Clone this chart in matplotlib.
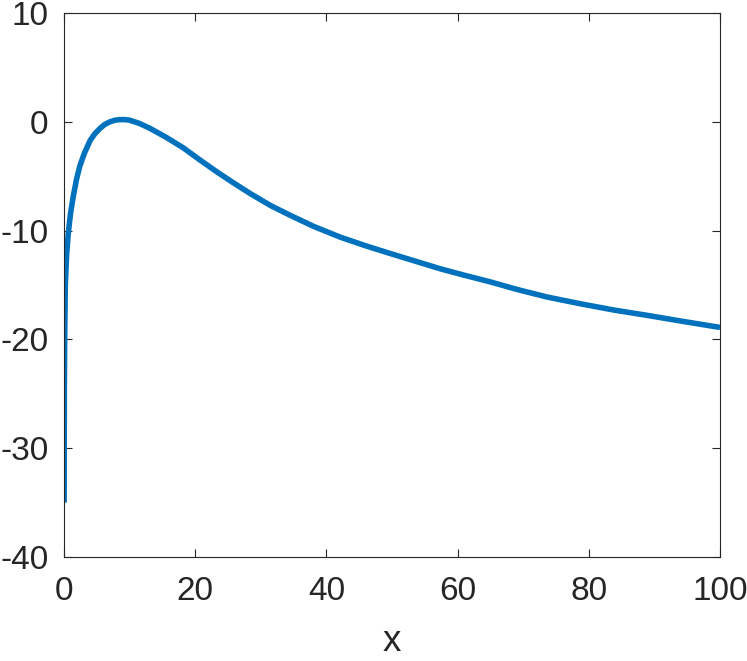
import matplotlib.pyplot as plt

# values
x_vals = [0.02, 0.05, 0.1, 0.2, 0.4, 0.66, 1.0, 1.4, 1.9, 2.4, 3.1, 4.0, 4.7, 5.5,
          6.2, 7.0, 7.8, 8.5, 9.3, 10.0, 11.5, 13.1, 15.5, 18.2, 20.7, 23.3,
          25.8, 28.4, 31.5, 34.5, 38.0, 42.1, 46.0, 49.7, 53.5, 57.3, 61.0,
          64.9, 69.0, 73.6, 78.5, 83.8, 89.0, 93.9, 100.0]
y_vals = [-35.0, -25.0, -20.0, -15.0, -12.2, -10.2, -8.4, -6.9, -5.3, -4.1, -2.9,
          -1.7, -1.1, -0.6, -0.25, 0.0, 0.15, 0.2, 0.2, 0.15, -0.15, -0.6,
          -1.4, -2.4, -3.5, -4.6, -5.6, -6.6, -7.7, -8.6, -9.6, -10.6, -11.4,
          -12.1, -12.8, -13.5, -14.1, -14.7, -15.4, -16.1, -16.7, -17.3,
          -17.8, -18.3, -18.9]

x_ticks = [0, 20, 40, 60, 80, 100]
y_ticks = [-40, -30, -20, -10, 0, 10]

plt.rcParams['font.family'] = ['Liberation Sans', 'DejaVu Sans']
plt.rcParams['axes.unicode_minus'] = False

fig = plt.figure(figsize=(7.47, 6.61), dpi=100)
ax = fig.add_axes([64 / 747, 104 / 661, 656 / 747, 544 / 661])

ax.plot(x_vals, y_vals, color='#0072BD', linewidth=4, solid_capstyle='butt',
        solid_joinstyle='round')

ax.set_xlim(0, 100)
ax.set_ylim(-40, 10)
ax.set_xticks(x_ticks)
ax.set_yticks(y_ticks)

for side in ax.spines.values():
    side.set_color('#262626')
    side.set_linewidth(0.8)

ax.tick_params(direction='in', length=6, width=0.8, color='#262626',
               top=True, right=True, labelsize=24, labelcolor='#262626')
ax.tick_params(axis='x', pad=14)
ax.tick_params(axis='y', pad=11)

ax.set_xlabel('x', fontsize=26.5, color='#262626', labelpad=12)

fig.savefig('out.png', dpi=100)
